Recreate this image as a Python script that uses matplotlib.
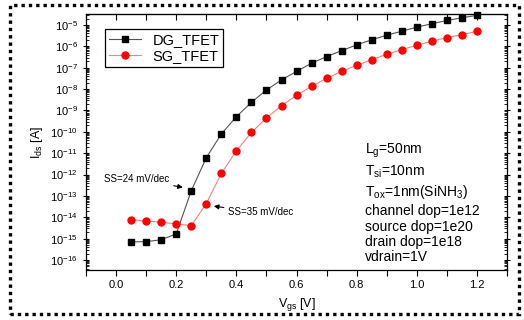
import numpy as np
import matplotlib
matplotlib.use("Agg")
import matplotlib.pyplot as plt
from matplotlib.patches import Rectangle
from matplotlib.ticker import FixedLocator, LogLocator, MultipleLocator, NullFormatter

plt.rcParams["font.family"] = ["Liberation Sans", "DejaVu Sans"]
plt.rcParams["mathtext.fontset"] = "custom"
plt.rcParams["mathtext.rm"] = "Liberation Sans"
plt.rcParams["mathtext.it"] = "Liberation Sans:italic"
plt.rcParams["mathtext.default"] = "regular"

# gate voltage (V)
vgs = [0.05, 0.10, 0.15, 0.20, 0.25, 0.30, 0.35, 0.40, 0.45, 0.50, 0.55, 0.60,
       0.65, 0.70, 0.75, 0.80, 0.85, 0.90, 0.95, 1.00, 1.05, 1.10, 1.15, 1.20]

# log10 of drain current (A)
log_ids_dg = [-15.15, -15.14, -15.05, -14.78, -12.76, -11.21, -10.10, -9.29,
              -8.62, -8.04, -7.57, -7.17, -6.79, -6.48, -6.20, -5.93,
              -5.69, -5.48, -5.29, -5.10, -4.94, -4.79, -4.66, -4.55]
log_ids_sg = [-14.12, -14.17, -14.23, -14.31, -14.39, -13.36, -11.95, -10.89,
              -10.03, -9.35, -8.78, -8.29, -7.87, -7.50, -7.17, -6.89,
              -6.62, -6.37, -6.15, -5.95, -5.76, -5.59, -5.45, -5.30]

ids_dg = 10.0 ** np.array(log_ids_dg)
ids_sg = 10.0 ** np.array(log_ids_sg)

params = [
    r"L$_{g}$=50nm",
    r"T$_{si}$=10nm",
    r"T$_{ox}$=1nm(SiNH$_{3}$)",
    "channel dop=1e12",
    "source dop=1e20",
    "drain dop=1e18",
    "vdrain=1V",
]
params_y = [0.465, 0.385, 0.305, 0.232, 0.170, 0.110, 0.050]

fig = plt.figure(figsize=(5.24, 3.2), dpi=100)
ax = fig.add_axes([0.164, 0.156, 0.804, 0.800])

ax.plot(vgs, ids_dg, color="#555555", lw=0.8, marker="s", ms=4.5,
        mfc="black", mec="black", label="DG_TFET", clip_on=False)
ax.plot(vgs, ids_sg, color="#ff7f7f", lw=0.8, marker="o", ms=5,
        mfc="red", mec="red", label="SG_TFET")

ax.set_yscale("log")
ax.set_xlim(-0.1, 1.3)
ax.set_ylim(10 ** -16.47, 10 ** -4.49)

ax.xaxis.set_major_locator(MultipleLocator(0.2))
ax.xaxis.set_minor_locator(MultipleLocator(0.1))
ax.yaxis.set_major_locator(FixedLocator(10.0 ** np.arange(-16, -4)))
ax.yaxis.set_minor_locator(LogLocator(base=10, subs=np.arange(2, 10), numticks=100))
ax.yaxis.set_minor_formatter(NullFormatter())

ax.tick_params(axis="x", which="both", direction="out", length=4, width=0.8,
               labelsize=8, top=False)
ax.tick_params(axis="y", which="major", direction="inout", length=5, width=0.8,
               labelsize=8, left=True, right=True)
ax.tick_params(axis="y", which="minor", direction="in", length=2.5, width=0.6,
               left=True, right=True)

top = ax.secondary_xaxis("top")
top.xaxis.set_major_locator(MultipleLocator(0.1))
top.tick_params(direction="in", length=4, width=0.8, labeltop=False)

for s in ax.spines.values():
    s.set_linewidth(0.9)

ax.set_xlabel(r"V$_{gs}$ [V]", fontsize=9, labelpad=4)
ax.set_ylabel(r"I$_{ds}$ [A]", fontsize=9, labelpad=4)

leg = ax.legend(loc="upper left", bbox_to_anchor=(0.045, 0.94), fontsize=10.5,
                fancybox=False, framealpha=1, edgecolor="black",
                handlelength=2.2, borderpad=0.25, labelspacing=0.15,
                borderaxespad=0)
leg.get_frame().set_linewidth(0.9)

for line, y in zip(params, params_y):
    ax.text(0.663, y, line, transform=ax.transAxes, fontsize=10, va="center", ha="left")

arrow = dict(arrowstyle="-|>", color="black", lw=0.8, mutation_scale=7,
             shrinkA=1, shrinkB=0)
ax.annotate("SS=24 mV/dec", xy=(0.222, 10 ** -12.6), xytext=(0.178, 10 ** -12.22),
            fontsize=7, ha="right", va="center", arrowprops=arrow)
ax.annotate("SS=35 mV/dec", xy=(0.325, 10 ** -13.48), xytext=(0.372, 10 ** -13.77),
            fontsize=7, ha="left", va="center", arrowprops=arrow)

fig.patches.append(Rectangle((0.019, 0.019), 0.971, 0.966, transform=fig.transFigure,
                             fill=False, edgecolor="black", lw=2.4,
                             linestyle=(0, (1, 1.2))))

fig.savefig("out.png", dpi=100)
